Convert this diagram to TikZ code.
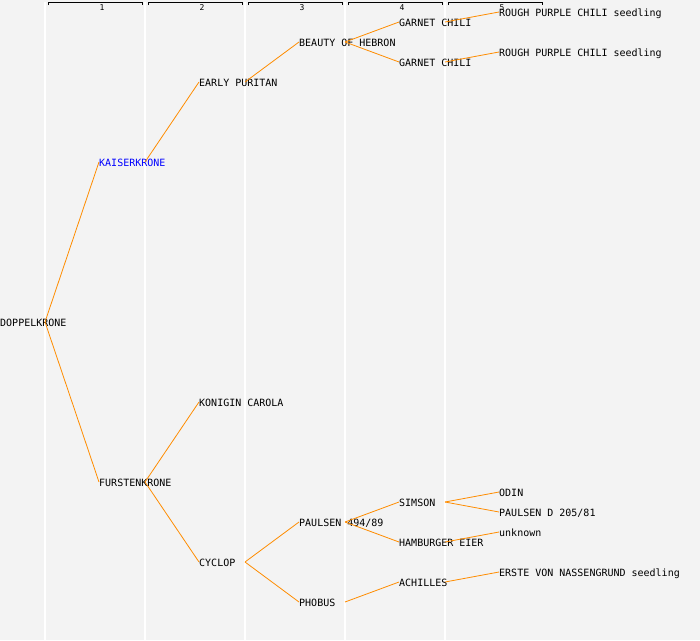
\documentclass[tikz,border=0pt]{standalone}
\usepackage{fontspec}
\setmonofont{DejaVu Sans Mono}
\usepackage{xcolor}
\definecolor{bgrey}{HTML}{F3F3F3}
\definecolor{lorange}{HTML}{FF8C00}

\begin{document}
\begin{tikzpicture}[x=1pt,y=-1pt,
  plant/.style={anchor=west,inner sep=0pt,text height=8pt,text depth=0pt,font=\ttfamily\fontsize{10}{10}\selectfont},
  link/.style={draw=lorange,line width=0.8pt},
  colnum/.style={inner sep=0pt,font=\ttfamily\fontsize{8}{8}\selectfont}]
\useasboundingbox (0,0) rectangle (700,640);
\fill[bgrey] (0,0) rectangle (700,640);
% column rules and header
\foreach \c in {1,...,5} {
  \draw[white,line width=1.2pt] (\c*100-55,2) -- (\c*100-55,640);
  \draw[black,line width=0.8pt] (\c*100-52,5) -- (\c*100-52,2) -- (\c*100+42,2) -- (\c*100+42,5);
  \node(col\c) [colnum] at (\c*100+2,8) {\c};
}
% generation 1
\node(dop) [plant] at (0,322) {DOPPELKRONE};
\coordinate (dop-o) at (45,322);
% generation 2
\node(kai) [plant,text=blue] at (99,162) {KAISERKRONE};
\coordinate (kai-o) at (145,162);
\node(fur) [plant] at (99,482) {FURSTENKRONE};
\coordinate (fur-o) at (145,482);
% generation 3
\node(ear) [plant] at (199,82) {EARLY PURITAN};
\coordinate (ear-o) at (245,82);
\node(kon) [plant] at (199,402) {KONIGIN CAROLA};
\node(cyc) [plant] at (199,562) {CYCLOP};
\coordinate (cyc-o) at (245,562);
% generation 4
\node(bea) [plant] at (299,42) {BEAUTY OF HEBRON};
\coordinate (bea-o) at (345,42);
\node(pau) [plant] at (299,522) {PAULSEN 494/89};
\coordinate (pau-o) at (345,522);
\node(pho) [plant] at (299,602) {PHOBUS};
\coordinate (pho-o) at (345,602);
% generation 5
\node(garA) [plant] at (399,22) {GARNET CHILI};
\coordinate (garA-o) at (445,22);
\node(garB) [plant] at (399,62) {GARNET CHILI};
\coordinate (garB-o) at (445,62);
\node(sim) [plant] at (399,502) {SIMSON};
\coordinate (sim-o) at (445,502);
\node(ham) [plant] at (399,542) {HAMBURGER EIER};
\coordinate (ham-o) at (445,542);
\node(ach) [plant] at (399,582) {ACHILLES};
\coordinate (ach-o) at (445,582);
% generation 6
\node(rouA) [plant] at (499,12) {ROUGH PURPLE CHILI seedling};
\node(rouB) [plant] at (499,52) {ROUGH PURPLE CHILI seedling};
\node(odi) [plant] at (499,492) {ODIN};
\node(pad) [plant] at (499,512) {PAULSEN D 205/81};
\node(unk) [plant] at (499,532) {unknown};
\node(ers) [plant] at (499,572) {ERSTE VON NASSENGRUND seedling};
% connectors
\draw[link] (dop-o) -- (kai.west);
\draw[link] (dop-o) -- (fur.west);
\draw[link] (kai-o) -- (ear.west);
\draw[link] (fur-o) -- (kon.west);
\draw[link] (fur-o) -- (cyc.west);
\draw[link] (ear-o) -- (bea.west);
\draw[link] (cyc-o) -- (pau.west);
\draw[link] (cyc-o) -- (pho.west);
\draw[link] (bea-o) -- (garA.west);
\draw[link] (bea-o) -- (garB.west);
\draw[link] (pau-o) -- (sim.west);
\draw[link] (pau-o) -- (ham.west);
\draw[link] (pho-o) -- (ach.west);
\draw[link] (garA-o) -- (rouA.west);
\draw[link] (garB-o) -- (rouB.west);
\draw[link] (sim-o) -- (odi.west);
\draw[link] (sim-o) -- (pad.west);
\draw[link] (ham-o) -- (unk.west);
\draw[link] (ach-o) -- (ers.west);
\end{tikzpicture}
\end{document}
